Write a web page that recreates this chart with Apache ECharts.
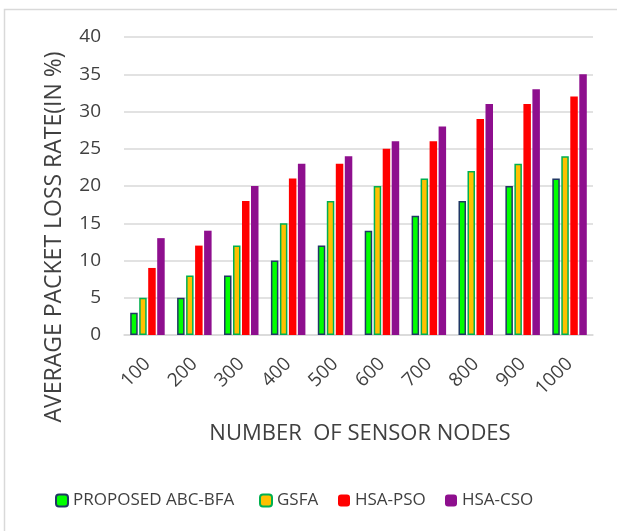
<!DOCTYPE html>
<html><head><meta charset="utf-8">
<script src="https://cdn.jsdelivr.net/npm/echarts@6/dist/echarts.min.js"></script>
<style>html,body{margin:0;padding:0;background:#fff}#c{width:617px;height:531px}</style>
</head><body><div id="c"></div>
<script>
const categories = ['100','200','300','400','500','600','700','800','900','1000'];
const abcBfa = [3,5,8,10,12,14,16,18,20,21];
const gsfa   = [5,8,12,15,18,20,21,22,23,24];
const hsaPso = [9,12,18,21,23,25,26,29,31,32];
const hsaCso = [13,14,20,23,24,26,28,31,33,35];
const seriesNames = ['PROPOSED ABC-BFA','GSFA','HSA-PSO','HSA-CSO'];

const FONT = '"Open Sans", sans-serif';
const TXT = '#404040';
const chart = echarts.init(document.getElementById('c'));
const legendPos = [55, 259, 338, 445];
chart.setOption({
  animation: false,
  textStyle: {fontFamily: FONT, color: TXT},
  grid: {left: 124, right: 24, top: 37, bottom: 196},
  graphic: [
    {type: 'rect', shape: {x: 4.5, y: 9.5, width: 700, height: 600}, style: {fill: 'none', stroke: '#d9d9d9', lineWidth: 1.5}, silent: true},
    {type: 'text', x: 54, y: 237, rotation: Math.PI/2, style: {text: 'AVERAGE PACKET LOSS RATE(IN %)', font: '23px ' + FONT, fill: TXT, align: 'center', verticalAlign: 'middle'}},
    {type: 'text', x: 360, y: 434, style: {text: 'NUMBER  OF SENSOR NODES', font: '22px ' + FONT, fill: TXT, align: 'center', verticalAlign: 'middle'}}
  ],
  legend: seriesNames.map((n, i) => ({
    data: [n], left: legendPos[i], top: 492, padding: 0, itemWidth: 12, itemHeight: 12, itemGap: 6,
    textStyle: {fontFamily: FONT, fontSize: 17, color: TXT}
  })),
  xAxis: {
    type: 'category', data: categories,
    axisLine: {lineStyle: {color: '#d9d9d9', width: 1.5}},
    axisTick: {show: false},
    axisLabel: {rotate: 45, fontSize: 19, color: TXT, margin: 26, fontFamily: FONT}
  },
  yAxis: {
    type: 'value', min: 0, max: 40, interval: 5,
    axisLine: {show: false}, axisTick: {show: false},
    splitLine: {lineStyle: {color: '#d9d9d9', width: 1.5}},
    axisLabel: {fontSize: 19, color: TXT, margin: 23, fontFamily: FONT}
  },
  series: [
    {name: seriesNames[0], type: 'bar', data: abcBfa, barWidth: 7.5, barGap: '20%',
     itemStyle: {color: '#00FF00', borderColor: '#203864', borderWidth: 1.5}},
    {name: seriesNames[1], type: 'bar', data: gsfa, barWidth: 7.5, barGap: '20%',
     itemStyle: {color: '#FFC000', borderColor: '#00B050', borderWidth: 1.5}},
    {name: seriesNames[2], type: 'bar', data: hsaPso, barWidth: 7.5, barGap: '20%',
     itemStyle: {color: '#FF0000'}},
    {name: seriesNames[3], type: 'bar', data: hsaCso, barWidth: 7.5, barGap: '20%',
     itemStyle: {color: '#8E0F8E'}}
  ]
});
</script></body></html>
